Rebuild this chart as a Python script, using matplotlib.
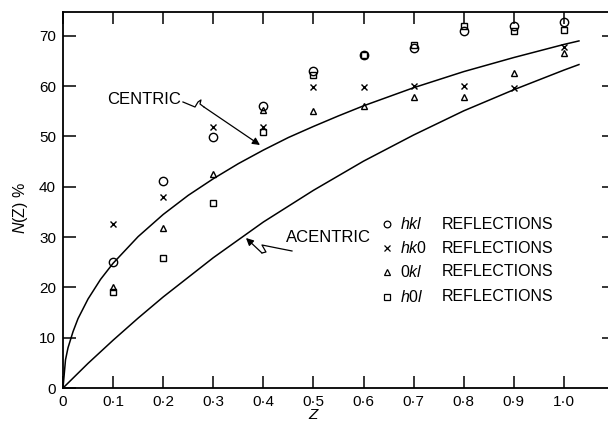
import matplotlib
matplotlib.use("Agg")
import matplotlib.pyplot as plt

plt.rcParams['font.family'] = ['Liberation Sans', 'DejaVu Sans']
plt.rcParams['mathtext.fontset'] = 'custom'
plt.rcParams['mathtext.it'] = 'Liberation Sans:italic'
plt.rcParams['mathtext.rm'] = 'Liberation Sans'

# ---- data ----
z_pts = [0.1, 0.2, 0.3, 0.4, 0.5, 0.6, 0.7, 0.8, 0.9, 1.0]
hkl = [25.0, 41.2, 49.9, 56.0, 63.0, 66.3, 67.5, 71.0, 72.0, 72.8]
hk0 = [32.6, 38.0, 51.9, 51.9, 59.8, 59.8, 60.0, 60.0, 59.6, 67.8]
okl = [20.1, 31.8, 42.5, 55.3, 55.1, 56.1, 57.9, 57.9, 62.6, 66.6]
h0l = [19.1, 25.8, 36.8, 50.9, 62.2, 66.2, 68.2, 72.0, 71.0, 71.2]

centric_z = [0, 0.005, 0.01, 0.02, 0.03, 0.05, 0.075, 0.1, 0.15, 0.2, 0.25, 0.3,
             0.35, 0.4, 0.45, 0.5, 0.55, 0.6, 0.65, 0.7, 0.75, 0.8, 0.85, 0.9,
             0.95, 1.0, 1.03]
centric_n = [0, 5.6, 8.0, 11.2, 13.8, 17.7, 21.6, 24.8, 30.1, 34.5, 38.3, 41.6,
             44.6, 47.3, 49.8, 52.0, 54.1, 56.1, 57.9, 59.7, 61.3, 62.9, 64.3, 65.7,
             67.0, 68.3, 69.0]
acentric_z = [0, 0.05, 0.1, 0.15, 0.2, 0.3, 0.4, 0.5, 0.6, 0.7, 0.8, 0.9, 1.0, 1.03]
acentric_n = [0, 4.9, 9.5, 13.9, 18.1, 25.9, 33.0, 39.3, 45.1, 50.3, 55.1, 59.3, 63.2, 64.3]

xtick_vals = [0, 0.1, 0.2, 0.3, 0.4, 0.5, 0.6, 0.7, 0.8, 0.9, 1.0]
xtick_labels = ['0', '0·1', '0·2', '0·3', '0·4', '0·5', '0·6', '0·7', '0·8', '0·9', '1·0']
ytick_vals = [0, 10, 20, 30, 40, 50, 60, 70]

series = [
    (hkl, 'o', r'$hkl$', 6.0),
    (hk0, 'x', r'$hk\mathrm{0}$', 5.0),
    (okl, '^', r'$\mathrm{0}kl$', 5.0),
    (h0l, 's', r'$h\mathrm{0}l$', 4.8),
]

fig = plt.figure(figsize=(6.08, 4.23), dpi=100)
ax = fig.add_axes([63/608, 1-388/423, 1-63/608, (388-12)/423])
ax.set_xlim(0, 1.088)
ax.set_ylim(0, 74.75)

ax.plot(centric_z, centric_n, color='black', lw=1.1)
ax.plot(acentric_z, acentric_n, color='black', lw=1.1)

for vals, m, lab, ms in series:
    ax.plot(z_pts, vals, linestyle='none', marker=m, ms=ms, mfc='none',
            mec='black', mew=1.0, clip_on=False)

# ticks
ax.set_xticks(xtick_vals)
ax.set_xticklabels(xtick_labels, fontsize=11)
ax.set_yticks(ytick_vals)
ax.set_yticklabels([str(v) for v in ytick_vals], fontsize=11)
ax.tick_params(axis='x', direction='in', length=8.5, width=1.1, top=True, bottom=True, pad=5)
ax.tick_params(axis='y', direction='in', length=9.5, width=1.1, left=True, right=False, pad=5)
sec = ax.secondary_yaxis('right')
sec.set_yticks(ytick_vals[1:])
sec.tick_params(direction='in', length=4.5, width=1.1, labelright=False)
sec.spines['right'].set_visible(False)
for s in ['left', 'bottom', 'top']:
    ax.spines[s].set_linewidth(1.3)
ax.spines['right'].set_visible(False)

# axis labels
fig.text(20/608, 1-208/423, r'$N$(Z) %', rotation=90, ha='center', va='center', fontsize=11.5)
fig.text(314/608, 0.002, r'$Z$', ha='center', va='bottom', fontsize=11)

# annotations
ax.text(0.0878, 57.3, 'CENTRIC', ha='left', va='center', fontsize=12)
cz = [0.2395, 0.2635, 0.2695, 0.2754, 0.2735, 0.2814]
cn = [56.86, 55.86, 56.86, 57.26, 56.46, 55.86]
ax.plot(cz, cn, color='black', lw=0.9)
ax.annotate('', xy=(0.3932, 48.31), xytext=(cz[-1], cn[-1]),
            arrowprops=dict(arrowstyle='-|>', color='black', lw=0.9, mutation_scale=11,
                            shrinkA=0, shrinkB=0))

ax.text(0.445, 30.0, 'ACENTRIC', ha='left', va='center', fontsize=12)
az = [0.4571, 0.4271, 0.4072, 0.3972, 0.4052, 0.3972]
an = [27.24, 27.83, 28.23, 28.43, 27.04, 26.84]
ax.plot(az, an, color='black', lw=0.9)
ax.annotate('', xy=(0.3653, 29.82), xytext=(az[-1], an[-1]),
            arrowprops=dict(arrowstyle='-|>', color='black', lw=0.9, mutation_scale=11,
                            shrinkA=0, shrinkB=0))

# legend
rows = [32.6, 27.8, 23.1, 18.1]
for (vals, m, lab, ms), yy in zip(series, rows):
    ax.plot([0.6467], [yy], marker=m, ms=ms*0.8, mfc='none', mec='black', mew=0.9,
            linestyle='none')
    ax.text(0.6727, yy, lab, ha='left', va='center', fontsize=11.5)
    ax.text(0.7565, yy, 'REFLECTIONS', ha='left', va='center', fontsize=11.5)

fig.savefig('out.png', dpi=100)
